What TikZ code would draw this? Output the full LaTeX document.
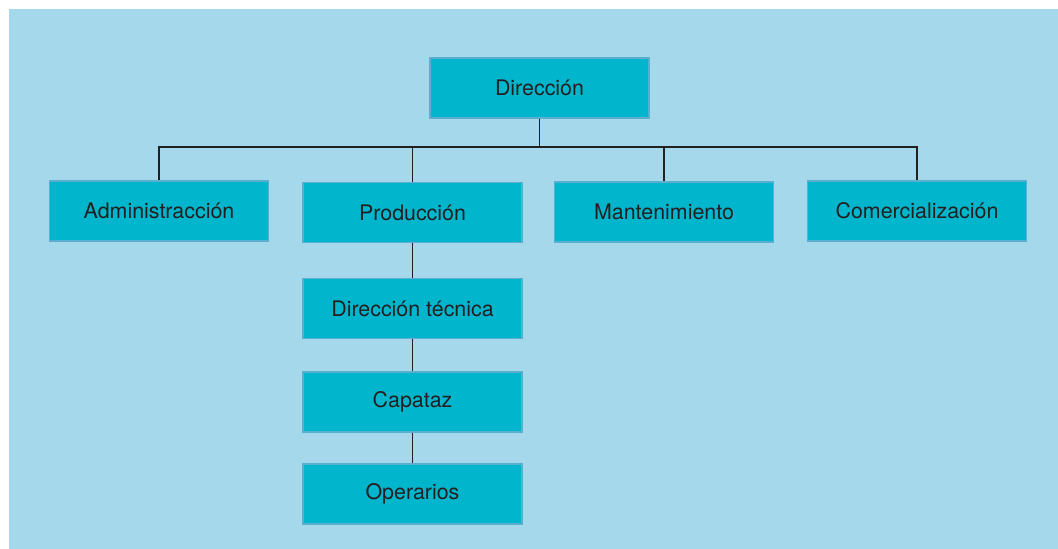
\documentclass[tikz,border=0pt]{standalone}
\usepackage{fontspec}
\setmainfont{TeX Gyre Heros}
\definecolor{fondo}{HTML}{A6D8EC}
\definecolor{caja}{HTML}{00B5CC}
\definecolor{borde}{HTML}{5AAED0}
\definecolor{linea}{HTML}{231F20}
\begin{document}
\begin{tikzpicture}[x=0.5pt,y=-0.5pt,
    puesto/.style={draw=borde,line width=0.6pt,fill=caja,text=linea,
      minimum width=109.5pt,minimum height=30pt,inner sep=0pt,font=\fontsize{10.7}{12}\selectfont},
    enlace/.style={draw=linea,line width=0.65pt}]
    \useasboundingbox (0,0) rectangle (1058,549);
    \fill[fondo] (9,9) rectangle (1058,549);
    % cajas
    \node[puesto] (dir) at (539.5,88) {Dirección};
    \node[puesto] (adm) at (159,211) {Administracción};
    \node[puesto] (prod) at (412.5,212.5) {Producción};
    \node[puesto] (mant) at (664,212) {Mantenimiento};
    \node[puesto] (com) at (917,211) {Comercialización};
    \node[puesto] (tec) at (412.5,308.5) {Dirección técnica};
    \node[puesto] (cap) at (412.5,402) {Capataz};
    \node[puesto] (ope) at (412.5,494) {Operarios};
    % lineas
    \coordinate (bus) at (0,147);
    \foreach \n in {adm,prod,mant,com}
      \draw[enlace] (dir.south) -- (dir.south |- bus) -| (\n.north);
    \draw[enlace] (prod) -- (tec);
    \draw[enlace] (tec) -- (cap);
    \draw[enlace] (cap) -- (ope);
  \end{tikzpicture}
\end{document}
